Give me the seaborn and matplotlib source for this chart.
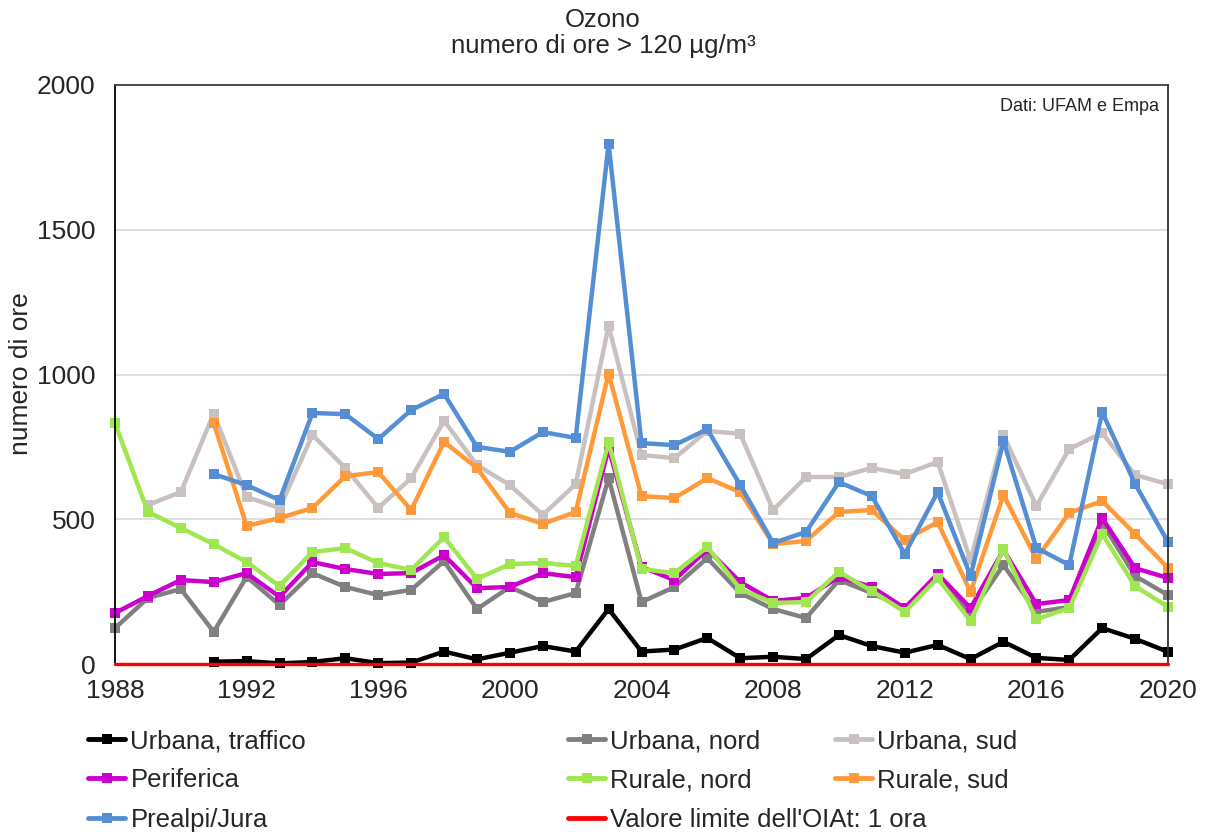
import numpy as np
import pandas as pd
import matplotlib
matplotlib.use("Agg")
import matplotlib.pyplot as plt
from matplotlib.ticker import MultipleLocator
from matplotlib.lines import Line2D
import seaborn as sns

years = list(range(1988, 2021))
nan = np.nan

urbana_traffico = [nan, nan, nan, 8, 10, 2, 7, 20, 3, 5, 43, 16, 39, 62, 43,
                   190, 43, 50, 90, 20, 25, 17, 100, 62, 39, 66, 17, 77, 21, 14, 124, 87, 42]
urbana_nord = [124, 228, 259, 111, 301, 204, 314, 266, 238, 256, 355, 190, 266, 214, 245,
               642, 214, 266, 366, 245, 190, 159, 290, 245, 193, 297, 176, 342, 180, 197, 487, 304, 238]
urbana_sud = [nan, 549, 594, 865, 577, 539, 791, 677, 539, 642, 840, 687, 618, 515, 621,
              1168, 722, 711, 805, 795, 532, 646, 646, 677, 656, 698, 359, 790, 546, 743, 798, 653, 621]
periferica = [176, 235, 290, 283, 314, 232, 352, 328, 311, 314, 376, 262, 266, 314, 300,
              746, 335, 290, 396, 283, 218, 228, 301, 266, 193, 311, 193, 394, 207, 221, 504, 331, 297]
rurale_nord = [832, 525, 470, 414, 352, 269, 387, 400, 349, 325, 438, 294, 345, 349, 339,
               767, 328, 314, 404, 259, 211, 214, 318, 252, 180, 297, 148, 397, 155, 193, 449, 269, 197]
rurale_sud = [nan, nan, nan, 832, 477, 504, 539, 649, 663, 532, 767, 677, 522, 484, 525,
              1003, 580, 573, 642, 594, 414, 425, 525, 532, 428, 490, 249, 584, 363, 522, 563, 449, 332]
prealpi_jura = [nan, nan, nan, 656, 618, 566, 867, 863, 777, 877, 933, 750, 733, 801, 781,
                1797, 763, 756, 811, 618, 418, 456, 628, 580, 380, 594, 304, 770, 401, 342, 870, 622, 421]
valore_limite = [1] * len(years)

series_names = ["Urbana, traffico", "Urbana, nord", "Urbana, sud", "Periferica",
                "Rurale, nord", "Rurale, sud", "Prealpi/Jura"]
series_values = [urbana_traffico, urbana_nord, urbana_sud, periferica,
                 rurale_nord, rurale_sud, prealpi_jura]
colors = ["#000000", "#808080", "#C9C1BF", "#CC00CC", "#A0E650", "#FF9A3A", "#558ED5"]
limit_name = "Valore limite dell'OIAt: 1 ora"

sns.set_style("white")
plt.rcParams["font.family"] = ["Liberation Sans", "DejaVu Sans"]

fig = plt.figure(figsize=(12.1, 8.32), dpi=100)
ax = fig.add_axes([115 / 1210, 1 - 664 / 832, (1168 - 115) / 1210, (664 - 85) / 832])

for name, vals, col in zip(series_names, series_values, colors):
    df = pd.DataFrame({"anno": years, "ore": vals}).dropna()
    sns.lineplot(data=df, x="anno", y="ore", ax=ax, color=col, linewidth=3.2,
                 marker="s", markersize=7.5, markeredgewidth=0, label=name, legend=False)

sns.lineplot(x=years, y=valore_limite, ax=ax, color="#FF0000", linewidth=2.4,
             label=limit_name, legend=False)
for ln in ax.lines:
    ln.set_clip_on(False)
ax.lines[-1].set_zorder(4)

ax.set_xlim(1988, 2020)
ax.set_ylim(0, 2000)
ax.xaxis.set_major_locator(MultipleLocator(4))
ax.xaxis.set_minor_locator(MultipleLocator(1))
ax.yaxis.set_major_locator(MultipleLocator(500))
ax.yaxis.set_minor_locator(MultipleLocator(250))
ax.grid(axis="y", which="major", color="#D9D9D9", linewidth=1.2)
ax.set_axisbelow(True)

ax.tick_params(axis="x", which="major", direction="inout", length=10, color="#A0A0A0",
               width=1, labelsize=19, pad=6)
ax.tick_params(axis="x", which="minor", direction="in", length=5, color="#A0A0A0", width=1)
ax.tick_params(axis="y", which="major", direction="in", length=7, color="black",
               width=1, labelsize=19, pad=14)
ax.tick_params(axis="y", which="minor", direction="in", length=7, color="black", width=1)

ax.set_xlabel("")
ax.set_ylabel("")
for side, c in [("left", "black"), ("top", "#404040"), ("right", "#303030"), ("bottom", "#A0A0A0")]:
    ax.spines[side].set_visible(True)
    ax.spines[side].set_color(c)
    ax.spines[side].set_linewidth(1.3)

ax.text(0.991, 0.978, "Dati: UFAM e Empa", transform=ax.transAxes, ha="right", va="top",
        fontsize=13)

fig.text(603 / 1210, 1 - 20 / 832, "Ozono", ha="center", va="center", fontsize=18.5)
fig.text(603 / 1210, 1 - 46 / 832, "numero di ore > 120 µg/m³", ha="center", va="center",
         fontsize=18.5)
fig.text(21 / 1210, 1 - 374 / 832, "numero di ore", ha="center", va="center",
         rotation=90, fontsize=19)

handles = {}
for name, col in zip(series_names, colors):
    handles[name] = Line2D([], [], color=col, linewidth=3.5, marker="s", markersize=6.5,
                           markeredgewidth=0)
handles[limit_name] = Line2D([], [], color="#FF0000", linewidth=3.5)

columns = [
    (["Urbana, traffico", "Periferica", "Prealpi/Jura"], 88),
    (["Urbana, nord", "Rurale, nord", limit_name], 568),
    (["Urbana, sud", "Rurale, sud"], 835),
]
for labels, xpx in columns:
    fig.legend([handles[l] for l in labels], labels, loc="upper left",
               bbox_to_anchor=(xpx / 1210, 1 - 729 / 832), frameon=False,
               fontsize=18.5, handlelength=1.45, handletextpad=0.2,
               labelspacing=0.6, borderaxespad=0, borderpad=0)

fig.savefig("out.png", dpi=100)
